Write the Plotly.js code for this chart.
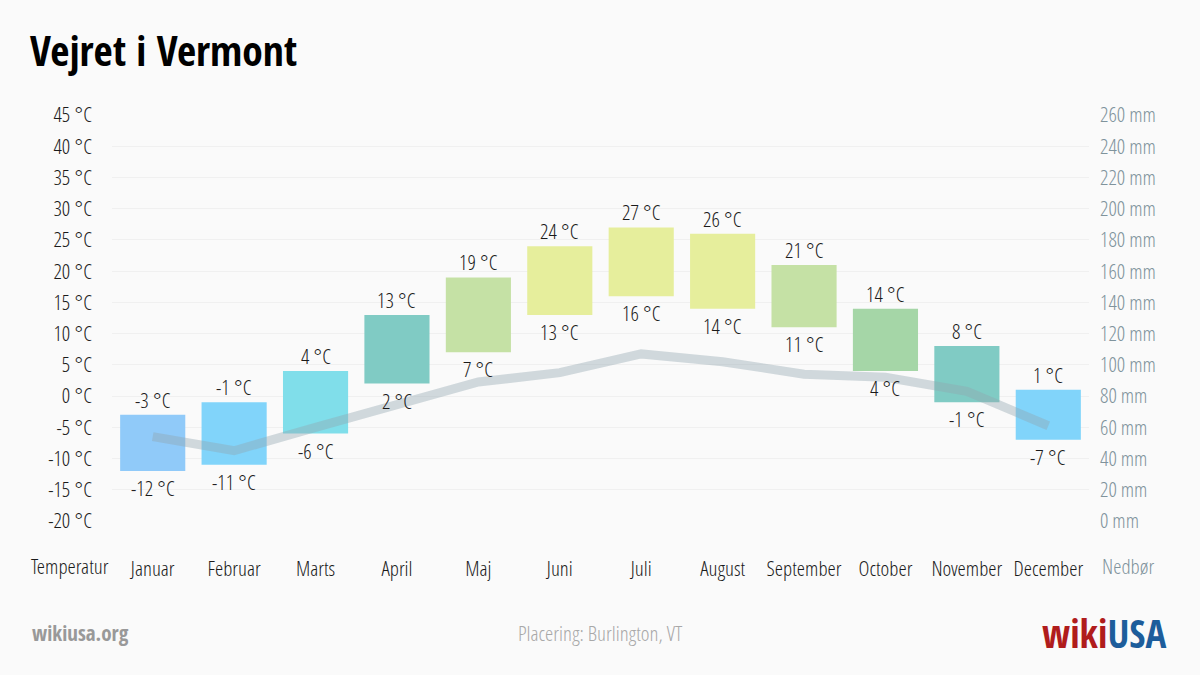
<!DOCTYPE html>
<html>
<head>
<meta charset="utf-8">
<script src="https://cdn.plot.ly/plotly-3.0.1.min.js"></script>
<style>
html,body{margin:0;padding:0;background:#fafafa;}
#chart{width:1200px;height:675px;}
</style>
</head>
<body>
<div id="chart"></div>
<script>
const months = ["Januar","Februar","Marts","April","Maj","Juni","Juli","August","September","October","November","December"];
const tempMax = [-3,-1,4,13,19,24,27,26,21,14,8,1];
const tempMin = [-12,-11,-6,2,7,13,16,14,11,4,-1,-7];
const precip = [54,45,60,74,89,95,107,102,94,92,83,61];
const barColors = ["#90caf9","#81d4fa","#80deea","#80cbc4","#c5e1a5","#e6ee9c","#e6ee9c","#e6ee9c","#c5e1a5","#a5d6a7","#80cbc4","#81d4fa"];
const tempTicks = [-20,-15,-10,-5,0,5,10,15,20,25,30,35,40,45];
const precipTicks = [0,20,40,60,80,100,120,140,160,180,200,220,240,260];

const FONT_L = "'Open Sans Condensed Light','Open Sans Condensed:light','Liberation Sans Narrow','DejaVu Sans Condensed',sans-serif";
const FONT_B = "'Open Sans Condensed','Liberation Sans Narrow',sans-serif";
const f = (size, color) => ({family: FONT_L, size: size, color: color, weight: 300});
const fb = (size, color) => ({family: FONT_B, size: size, color: color, weight: "bold"});

const TXT = "#1a1a1a";
const GREY = "#7f939c";

const traces = [
  {
    type: "bar",
    x: months,
    y: tempMax.map((v, i) => v - tempMin[i]),
    base: tempMin,
    marker: {color: barColors},
    width: 0.8,
    hoverinfo: "skip",
    showlegend: false
  },
  {
    type: "scatter",
    mode: "lines",
    x: months,
    y: precip,
    yaxis: "y2",
    line: {color: "rgba(144,164,174,0.4)", width: 9, shape: "linear"},
    showlegend: false,
    hoverinfo: "skip"
  }
];

const annotations = [];
months.forEach((m, i) => {
  annotations.push({x: m, y: tempMax[i], xref: "x", yref: "y", text: tempMax[i] + " °C", showarrow: false, yanchor: "bottom", yshift: -1, font: f(21, TXT)});
  annotations.push({x: m, y: tempMin[i], xref: "x", yref: "y", text: tempMin[i] + " °C", showarrow: false, yanchor: "top", yshift: -1, font: f(21, TXT)});
});
annotations.push(
  {text: "Temperatur", xref: "paper", yref: "paper", x: -0.043, y: -0.11, xanchor: "center", yanchor: "middle", showarrow: false, font: f(21, TXT)},
  {text: "Nedbør", xref: "paper", yref: "paper", x: 1.04, y: -0.11, xanchor: "center", yanchor: "middle", showarrow: false, font: f(21, GREY)},
  {text: "wikiusa.org", xref: "paper", yref: "paper", x: -0.084, y: -0.275, xanchor: "left", yanchor: "middle", showarrow: false, font: fb(21, "#999")},
  {text: "Placering: Burlington, VT", xref: "paper", yref: "paper", x: 0.5, y: -0.275, xanchor: "center", yanchor: "middle", showarrow: false, font: f(21, "#a8a8a8")},
  {text: "<span style='color:#b01c1c'>wiki</span><span style='color:#1d5d9b'>USA</span>", xref: "paper", yref: "paper", x: 1.081, y: -0.275, xanchor: "right", yanchor: "middle", showarrow: false, font: fb(39, "#1d5d9b")}
);

const layout = {
  width: 1200,
  height: 675,
  paper_bgcolor: "#fafafa",
  plot_bgcolor: "#fafafa",
  margin: {l: 112, r: 111, t: 115, b: 154},
  font: f(21, TXT),
  showlegend: false,
  bargap: 0.2,
  title: {
    text: "Vejret i Vermont",
    font: fb(41.5, "#000"),
    x: 0.025, xanchor: "left",
    y: 0.924, yanchor: "middle"
  },
  xaxis: {
    type: "category",
    range: [-0.5, 11.5],
    showgrid: false,
    zeroline: false,
    showline: false,
    ticks: "",
    tickangle: 0,
    tickfont: f(21, TXT),
    ticklabelstandoff: 33,
    fixedrange: true
  },
  yaxis: {
    range: [-20, 45],
    tickvals: tempTicks,
    ticktext: tempTicks.map(v => v + " °C"),
    showgrid: true,
    gridcolor: "#f0f0f0",
    gridwidth: 1,
    zeroline: false,
    showline: false,
    ticks: "",
    tickfont: f(21, TXT),
    ticklabelstandoff: 19,
    fixedrange: true
  },
  yaxis2: {
    range: [0, 260],
    overlaying: "y",
    side: "right",
    tickvals: precipTicks,
    ticktext: precipTicks.map(v => v + " mm"),
    showgrid: false,
    zeroline: false,
    showline: false,
    ticks: "",
    tickfont: f(21, GREY),
    ticklabelstandoff: 10,
    fixedrange: true
  },
  annotations: annotations
};

Plotly.newPlot("chart", traces, layout, {displayModeBar: false, staticPlot: true});
</script>
</body>
</html>
